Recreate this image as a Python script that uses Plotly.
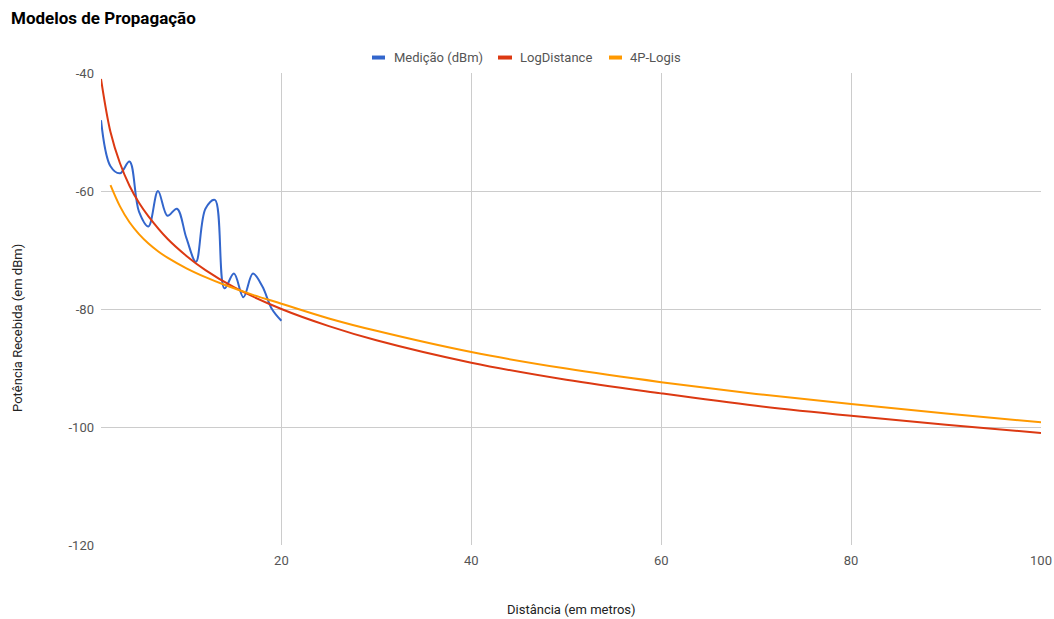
import plotly.graph_objects as go

# Measured received power (blue)
med_x = [1, 2, 3, 4, 5, 6, 7, 8, 9, 10, 11, 12, 13, 14, 15, 16, 17, 18, 19, 20]
med_y = [-48.0, -55.8, -57.0, -55.0, -63.5, -66.0, -60.0, -64.2, -63.0, -68.0,
         -72.0, -63.0, -61.5, -76.5, -74.0, -78.0, -74.0, -76.2, -80.0, -82.0]

# LogDistance model (red)
log_x = [1, 2, 3, 4, 5, 6, 8, 10, 12, 15, 20, 25, 30, 40, 50, 60, 70, 80, 90, 100]
log_y = [-41.0, -50.0, -55.3, -59.1, -62.0, -64.3, -68.1, -71.0, -73.4, -76.3,
         -80.0, -82.9, -85.3, -89.1, -92.0, -94.3, -96.4, -98.1, -99.6, -101.0]

# 4P-Logis model (orange)
p4_x = [2, 3, 4, 5, 6, 7, 8, 10, 12, 14, 17, 20, 25, 30, 40, 50, 60, 70, 80, 90, 100]
p4_y = [-59.0, -62.6, -65.3, -67.3, -68.9, -70.2, -71.3, -73.1, -74.6, -75.9,
        -77.6, -79.1, -81.6, -83.7, -87.3, -90.1, -92.4, -94.4, -96.1, -97.7, -99.2]

x_ticks = [20, 40, 60, 80, 100]
y_ticks = [-40, -60, -80, -100, -120]

names = ["Medição (dBm)", "LogDistance", "4P-Logis"]
colors = ["#3366cc", "#dc3912", "#ff9900"]

FONT = "Roboto, Arial, sans-serif"
W, H = 1054, 619
PL, PR, PT, PB = 101, 1041, 72.5, 545.5
PW, PH = PR - PL, PB - PT


def px(xp):
    return (xp - PL) / PW


def py(yp):
    return (PB - yp) / PH


fig = go.Figure()
for xs, ys, nm, col in [(med_x, med_y, names[0], colors[0]),
                        (log_x, log_y, names[1], colors[1]),
                        (p4_x, p4_y, names[2], colors[2])]:
    fig.add_trace(go.Scatter(x=xs, y=ys, mode="lines", name=nm, showlegend=False,
                             line=dict(color=col, width=2, shape="spline", smoothing=1.0)))

fig.update_layout(
    width=W, height=H,
    margin=dict(l=PL, r=W - PR, t=PT, b=H - PB, autoexpand=False),
    paper_bgcolor="white", plot_bgcolor="white",
    font=dict(family=FONT, size=13, color="#444"),
    showlegend=False,
)
fig.update_xaxes(range=[1, 100], tickvals=x_ticks, ticktext=[str(v) for v in x_ticks],
                 showgrid=True, gridcolor="#cccccc", gridwidth=1, zeroline=False,
                 showline=False, ticks="", automargin=False, ticklabelstandoff=6,
                 tickfont=dict(family=FONT, size=13, color="#555"))
fig.update_yaxes(range=[-120, -40], tickvals=y_ticks, ticktext=[str(v) for v in y_ticks],
                 showgrid=True, gridcolor="#cccccc", gridwidth=1, zeroline=False,
                 showline=False, ticks="", automargin=False, ticklabelstandoff=6,
                 tickfont=dict(family=FONT, size=13, color="#555"))

# Title
fig.add_annotation(text="<b>Modelos de Propagação</b>", xref="paper", yref="paper",
                   x=px(9), y=py(17), xanchor="left", yanchor="middle", showarrow=False,
                   font=dict(family=FONT, size=17, color="#000"))

# Custom legend
leg_sym = [(372, 385), (498, 512), (609, 622)]
leg_txt = [392, 518, 628]
for (x0, x1), xt, nm, col in zip(leg_sym, leg_txt, names, colors):
    fig.add_shape(type="line", xref="paper", yref="paper", x0=px(x0), x1=px(x1),
                  y0=py(57), y1=py(57), line=dict(color=col, width=4))
    fig.add_annotation(text=nm, xref="paper", yref="paper", x=px(xt), y=py(57),
                       xanchor="left", yanchor="middle", showarrow=False,
                       font=dict(family=FONT, size=13, color="#555"))

# Axis titles
fig.add_annotation(text="Distância (em metros)", xref="paper", yref="paper",
                   x=px(571), y=py(610), xanchor="center", yanchor="middle",
                   showarrow=False, font=dict(family=FONT, size=13, color="#222"))
fig.add_annotation(text="Potência Recebida (em dBm)", xref="paper", yref="paper",
                   x=px(18), y=py(328), xanchor="center", yanchor="middle", textangle=-90,
                   showarrow=False, font=dict(family=FONT, size=13, color="#222"))

fig.write_html("out.html", config={"displayModeBar": False},
               post_script="document.body.style.margin='0';document.body.style.overflow='hidden';")
